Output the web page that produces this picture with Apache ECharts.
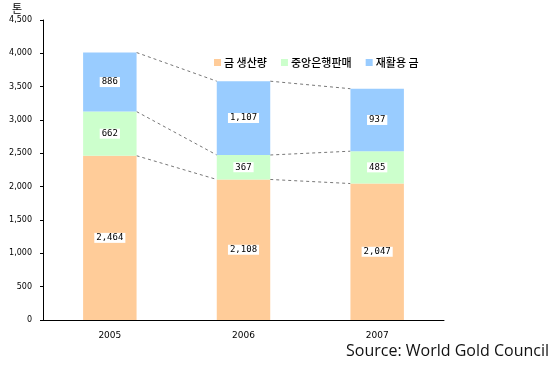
<!DOCTYPE html>
<html><head><meta charset="utf-8">
<script src="https://cdn.jsdelivr.net/npm/echarts@6/dist/echarts.min.js"></script>
<style>html,body{margin:0;padding:0;background:#fff}#c{width:552px;height:365px}</style>
</head><body><div id="c"></div>
<script>
const categories = ['2005', '2006', '2007'];
const seriesNames = ['금 생산량', '중앙은행판매', '재활용 금'];
const production = [2464, 2108, 2047];
const centralBank = [662, 367, 485];
const recycled = [886, 1107, 937];
const yTicks = [0, 500, 1000, 1500, 2000, 2500, 3000, 3500, 4000, 4500];
const colors = ['#FFCC99', '#CCFFCC', '#99CCFF'];

const stacks = [production, centralBank, recycled];
const cumulative = [];
let run = categories.map(() => 0);
stacks.forEach(s => { run = run.map((v, i) => v + s[i]); cumulative.push(run.slice()); });
const connData = [];
cumulative.forEach(level => {
  for (let i = 0; i < categories.length - 1; i++) connData.push([i, level[i], level[i + 1]]);
});
const fmt = v => v.toString().replace(/\B(?=(\d{3})+(?!\d))/g, ',');
const BAR_RATIO = 0.4;

const chart = echarts.init(document.getElementById('c'));
chart.setOption({
  animation: false,
  grid: { left: 43, right: 108, top: 20, bottom: 45 },
  legend: {
    left: 209, top: 52, itemWidth: 7, itemHeight: 7, itemGap: 14,
    icon: 'rect',
    data: seriesNames,
    textStyle: { fontFamily: 'Noto Sans CJK KR', fontSize: 11, fontWeight: 500, color: '#000', padding: [0, 0, 0, -2] }
  },
  xAxis: {
    type: 'category', data: categories,
    axisLine: { lineStyle: { color: '#000', width: 1 } },
    axisTick: { show: false },
    axisLabel: { color: '#000', fontSize: 9, fontFamily: 'DejaVu Sans', margin: 11 }
  },
  yAxis: {
    type: 'value', min: 0, max: 4500, interval: 500,
    splitLine: { show: false },
    axisLine: { show: true, lineStyle: { color: '#000', width: 1 } },
    axisTick: { show: true, length: 3, lineStyle: { color: '#000' } },
    axisLabel: { color: '#000', fontSize: 8, fontFamily: 'DejaVu Sans', margin: 11,
      formatter: v => yTicks.includes(v) ? fmt(v) : '' }
  },
  graphic: [
    { type: 'text', left: 12, top: 3, style: { text: '톤', fontSize: 11, fontFamily: 'Noto Sans CJK KR', fill: '#000' } },
    { type: 'text', right: 3, top: 343, style: { text: 'Source: World Gold Council', fontSize: 16, fontFamily: 'Open Sans', fill: '#111' } }
  ],
  series: stacks.map((s, k) => ({
    name: seriesNames[k], type: 'bar', stack: 'total', data: s,
    barWidth: (BAR_RATIO * 100) + '%',
    itemStyle: { color: colors[k] },
    label: {
      show: true, position: 'inside', formatter: p => fmt(p.value),
      backgroundColor: '#fff', padding: [1, 2, 0, 2], color: '#000',
      fontSize: 9, fontFamily: 'DejaVu Sans Mono'
    }
  })).concat([{
    type: 'custom', name: 'conn', silent: true, data: connData,
    encode: { x: 0, y: 1 },
    renderItem: (params, api) => {
      const i = api.value(0);
      const p1 = api.coord([i, api.value(1)]);
      const p2 = api.coord([i + 1, api.value(2)]);
      const half = api.size([1, 0])[0] * BAR_RATIO / 2;
      return {
        type: 'line',
        shape: { x1: p1[0] + half, y1: p1[1], x2: p2[0] - half, y2: p2[1] },
        style: { stroke: '#777', lineWidth: 1, lineDash: [3, 3] }
      };
    }
  }])
});
</script></body></html>
